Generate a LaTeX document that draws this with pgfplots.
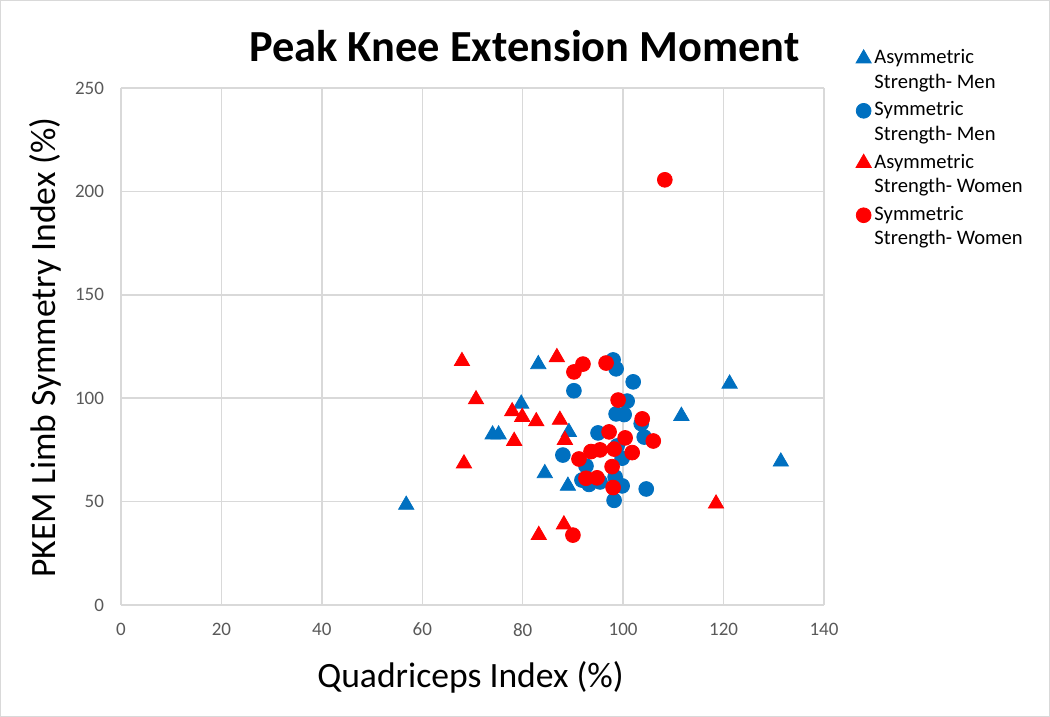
\documentclass[border=0pt]{standalone}
\usepackage{pgfplots}
\pgfplotsset{compat=1.18}
\usepackage{fontspec}
\setmainfont{Carlito}
\definecolor{mblue}{HTML}{0070C0}
\definecolor{mred}{HTML}{FF0000}
\definecolor{gridc}{HTML}{D9D9D9}
\definecolor{tickc}{HTML}{595959}
\newcommand{\two}[2]{\begin{tabular}[t]{@{}l@{}}#1\\#2\end{tabular}}
\begin{document}
\begin{tikzpicture}
\useasboundingbox (0,0) rectangle (525pt,358.5pt);
\draw[gridc, line width=0.6pt] (0.4pt,0.4pt) rectangle (524.6pt,358.1pt);
\begin{axis}[
  at={(60.5pt,56pt)}, anchor=south west,
  scale only axis, width=351.5pt, height=258.5pt,
  xmin=0, xmax=140, ymin=0, ymax=250,
  xtick={0,20,...,140}, ytick={0,50,...,250},
  grid=major, major grid style={gridc, line width=0.75pt},
  axis line style={draw=none},
  major tick length=0pt,
  /pgf/number format/assume math mode=true,
  tick label style={font=\fontsize{9.5}{11}\selectfont, text=tickc},
  xticklabel style={yshift=-5.5pt},
  yticklabel style={xshift=-5pt},
  legend style={at={(1.045,1.089)}, anchor=north west, draw=none, fill=none,
    font=\fontsize{10.3}{12.3}\selectfont, cells={anchor=base west},
    row sep=12pt, inner sep=0pt, nodes={inner xsep=1.6pt}},
  legend image post style={yshift=2.5pt},
  clip=false,
]
\addplot[only marks, mark=triangle*, mark size=4.4pt, color=mblue] coordinates {
(56.8,48.4) (83.1,116.4) (79.7,97.3) (74.0,82.4) (75.2,82.4) (84.4,63.7)
(89.0,57.6) (89.2,83.6) (111.6,91.4) (121.2,107.0) (131.4,69.3)};
\addlegendentry{\two{Asymmetric}{Strength- Men}}
\addplot[only marks, mark=*, mark size=3.7pt, color=mblue] coordinates {
(98.0,118.5) (98.6,114.2) (102.0,107.9) (90.2,103.6) (100.8,98.6) (98.6,92.4)
(100.2,92.1) (95.0,83.2) (103.6,87.7) (104.2,81.2) (88.0,72.5) (98.8,76.9)
(99.8,71.0) (92.6,67.2) (98.4,61.9) (91.8,60.4) (93.2,58.3) (95.4,59.5)
(99.8,57.6) (104.6,56.1) (98.2,50.6)};
\addlegendentry{\two{Symmetric}{Strength- Men}}
\addplot[only marks, mark=triangle*, mark size=4.4pt, color=mred] coordinates {
(67.9,117.9) (86.8,119.8) (70.7,99.4) (77.9,93.6) (79.9,90.9) (82.7,88.8)
(87.4,89.5) (78.3,79.3) (88.4,79.8) (68.3,68.4) (83.2,33.8) (88.2,38.9)
(118.5,49.0)};
\addlegendentry{\two{Asymmetric}{Strength- Women}}
\addplot[only marks, mark=*, mark size=3.7pt, color=mred] coordinates {
(108.3,205.6) (92.0,116.5) (90.2,112.7) (96.6,117.0) (99.0,99.1) (103.8,90.0)
(97.2,83.7) (100.4,80.8) (106.0,79.3) (95.4,75.0) (93.6,74.2) (98.2,75.4)
(101.8,73.7) (91.2,70.6) (97.8,66.9) (92.6,61.3) (94.8,61.5) (98.0,56.8)
(90.0,33.8)};
\addlegendentry{\two{Symmetric}{Strength- Women}}
\end{axis}
\node[font=\fontsize{22.2}{26}\selectfont\bfseries, anchor=base] at (262.25pt,327.5pt) {Peak Knee Extension Moment};
\node[font=\fontsize{17.8}{21}\selectfont, rotate=90, anchor=base] at (27.5pt,184.75pt) {PKEM Limb Symmetry Index (\%)};
\node[font=\fontsize{17.8}{21}\selectfont, anchor=base] at (235.25pt,14.5pt) {Quadriceps Index (\%)};
\end{tikzpicture}
\end{document}
